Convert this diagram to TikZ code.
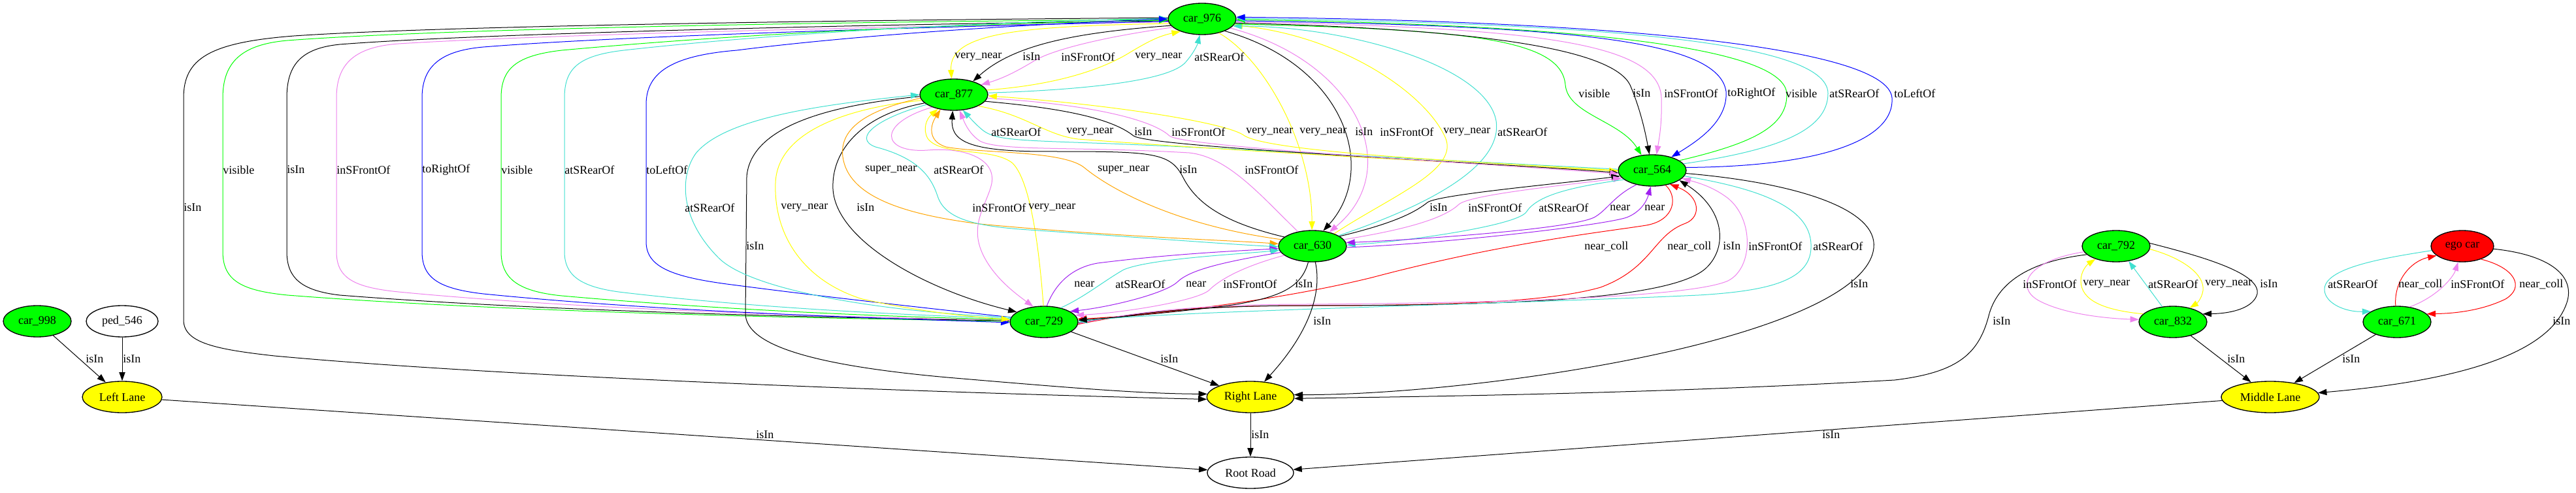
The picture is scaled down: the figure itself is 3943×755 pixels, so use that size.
\documentclass[tikz,border=0pt]{standalone}
\usepackage{fontspec}
\setmainfont{Liberation Serif}
\usetikzlibrary{arrows.meta,shapes.geometric}
\definecolor{gvgreen}{RGB}{0,255,0}
\definecolor{gvyellow}{RGB}{255,255,0}
\definecolor{gvviolet}{RGB}{238,130,238}
\definecolor{gvblue}{RGB}{0,0,255}
\definecolor{gvturq}{RGB}{64,224,208}
\definecolor{gvpurple}{RGB}{160,32,240}
\definecolor{gvorange}{RGB}{255,165,0}
\definecolor{gvred}{RGB}{255,0,0}
\newcommand\lbl{\fontsize{13.5}{15}\selectfont}
\begin{document}
\begin{tikzpicture}[x=0.75pt,y=-0.75pt,
  nd/.style={ellipse,draw=black,line width=1pt,inner sep=0pt,minimum height=36pt,font=\lbl},
  gn/.style={nd,fill=gvgreen,minimum width=78pt},
  ed/.style={-{Triangle[length=10pt,width=7pt]},line width=0.75pt},
  lab/.style={anchor=west,inner sep=0pt,font=\lbl}]
\fill[white] (0,0) rectangle (3943,755);
\useasboundingbox (0,0) rectangle (3943,755);
% nodes
\node[gn] (c976) at (1840,29) {car\_976};
\node[gn] (c877) at (1460,145) {car\_877};
\node[gn] (c564) at (2529,261) {car\_564};
\node[gn] (c630) at (2009,377) {car\_630};
\node[gn] (c729) at (1598,493) {car\_729};
\node[nd,fill=gvyellow,minimum width=100pt] (RL) at (1914,608) {Right Lane};
\node[nd,fill=white,minimum width=99pt] (RR) at (1914,724) {Root Road};
\node[nd,fill=gvyellow,minimum width=91.5pt] (LL) at (187,608) {Left Lane};
\node[gn] (c998) at (57,492) {car\_998};
\node[nd,fill=white,minimum width=82.5pt] (p546) at (187,492) {ped\_546};
\node[gn] (c792) at (3239,377) {car\_792};
\node[gn] (c832) at (3326,493) {car\_832};
\node[nd,fill=gvred,minimum width=72pt] (ego) at (3769,377) {ego car};
\node[gn] (c671) at (3669,493) {car\_671};
\node[nd,fill=gvyellow,minimum width=112.5pt] (ML) at (3475,608) {Middle Lane};

% ---- left bracket group c976 <-> c729
\draw[ed] (c976.178) .. controls (1400,30) and (700,38) .. (450,55) .. controls (320,65) and (281,90) .. (281,150) -- (281,490) .. controls (281,525) and (330,535) .. (420,545) .. controls (800,580) and (1500,603) .. (RL.183);
\draw[ed,gvgreen] (c976.181) .. controls (1400,32) and (700,42) .. (440,62) .. controls (370,68) and (341,95) .. (341,150) -- (341,385) .. controls (341,430) and (370,445) .. (440,452) .. controls (800,480) and (1300,488) .. (c729.179);
\draw[ed] (c976.183) .. controls (1400,36) and (750,50) .. (520,68) .. controls (460,74) and (439,100) .. (439,150) -- (439,385) .. controls (439,425) and (460,445) .. (520,452) .. controls (850,478) and (1300,487) .. (c729.178);
\draw[ed,gvviolet] (c976.185) .. controls (1400,40) and (850,52) .. (610,67) .. controls (540,72) and (515,100) .. (515,150) -- (515,385) .. controls (515,425) and (540,440) .. (610,447) .. controls (900,475) and (1300,486) .. (c729.177);
\draw[ed,gvblue] (c976.184) .. controls (1400,42) and (950,55) .. (740,72) .. controls (670,78) and (646,105) .. (646,150) -- (646,385) .. controls (646,425) and (670,442) .. (740,450) .. controls (1000,476) and (1300,486) .. (c729.181);
\draw[ed,gvgreen] (c729.176) .. controls (1300,484) and (1050,470) .. (860,453) .. controls (790,446) and (767,425) .. (767,385) -- (767,150) .. controls (767,105) and (790,85) .. (860,77) .. controls (1100,55) and (1400,38) .. (c976.182);
\draw[ed,gvturq] (c729.174) .. controls (1300,480) and (1100,465) .. (955,448) .. controls (885,440) and (864,420) .. (864,385) -- (864,150) .. controls (864,105) and (885,85) .. (955,77) .. controls (1150,55) and (1450,35) .. (c976.179);
\draw[ed,gvblue] (c729.172) .. controls (1400,470) and (1250,453) .. (1128,437) .. controls (1030,425) and (989,410) .. (989,370) -- (989,160) .. controls (989,110) and (1030,85) .. (1128,77) .. controls (1300,55) and (1550,38) .. (c976.180);
\draw[ed] (c877.183) .. controls (1280,160) and (1150,190) .. (1143,270) -- (1141,480) .. controls (1141,530) and (1250,560) .. (1450,578) .. controls (1650,595) and (1750,603) .. (RL.176);

% ---- c976 <-> c877
\draw[ed,gvyellow] (c976.188) .. controls (1560,40) and (1452,50) .. (c877.98);
\draw[ed] (c976.192) .. controls (1640,50) and (1550,70) .. (c877.35);
\draw[ed,gvviolet] (c976.196) .. controls (1700,55) and (1610,75) .. (1580,95) .. controls (1555,110) and (1535,120) .. (c877.20);
\draw[ed,gvyellow] (c877.8) .. controls (1620,130) and (1690,105) .. (1730,80) .. controls (1760,62) and (1775,55) .. (c976.210);
\draw[ed,gvturq] (c877.3) .. controls (1650,138) and (1790,125) .. (1815,95) .. controls (1828,80) and (1833,68) .. (c976.262);

% ---- c976 <-> c630
\draw[ed,gvyellow] (c976.320) .. controls (1935,90) and (2008,220) .. (c630.92);
\draw[ed] (c976.332) .. controls (2060,100) and (2110,260) .. (c630.55);
\draw[ed,gvviolet] (c976.342) .. controls (2080,95) and (2150,260) .. (c630.40);
\draw[ed,gvyellow] (c630.30) .. controls (2130,300) and (2235,260) .. (2212,210) .. controls (2180,140) and (2050,55) .. (c976.349);
\draw[ed,gvturq] (c630.22) .. controls (2200,310) and (2300,250) .. (2290,185) .. controls (2275,100) and (2060,40) .. (c976.347);

% ---- c976 <-> c564
\draw[ed,gvgreen] (c976.351) .. controls (2250,45) and (2390,60) .. (2396,130) .. controls (2400,175) and (2480,185) .. (c564.125);
\draw[ed] (c976.353) .. controls (2300,45) and (2470,80) .. (2495,130) .. controls (2510,165) and (2518,200) .. (c564.100);
\draw[ed,gvviolet] (c976.355) .. controls (2350,42) and (2540,65) .. (2543,150) .. controls (2544,190) and (2540,210) .. (c564.75);
\draw[ed,gvblue] (c976.357) .. controls (2400,40) and (2630,60) .. (2642,140) .. controls (2645,185) and (2600,215) .. (c564.35);
\draw[ed,gvgreen] (c564.20) .. controls (2680,220) and (2735,195) .. (2735,145) .. controls (2735,70) and (2400,38) .. (c976.359);
\draw[ed,gvturq] (c564.12) .. controls (2720,230) and (2798,200) .. (2798,143) .. controls (2798,60) and (2420,36) .. (c976.1);
\draw[ed,gvblue] (c564.5) .. controls (2800,255) and (2900,210) .. (2896,150) .. controls (2890,70) and (2450,32) .. (c976.3);

% ---- c877 <-> c729
\draw[ed,gvturq] (c729.172) .. controls (1350,478) and (1150,445) .. (1100,395) .. controls (1040,335) and (1040,270) .. (1065,235) .. controls (1110,180) and (1260,160) .. (c877.180);
\draw[ed,gvyellow] (c877.190) .. controls (1300,165) and (1190,200) .. (1187,280) .. controls (1184,360) and (1230,430) .. (1320,458) .. controls (1420,480) and (1500,486) .. (c729.176);
\draw[ed] (c877.196) .. controls (1320,175) and (1272,230) .. (1275,290) .. controls (1280,370) and (1420,445) .. (c729.160);
\draw[ed,gvviolet] (c877.210) .. controls (1340,190) and (1350,235) .. (1420,230) .. controls (1480,225) and (1528,245) .. (1517,285) .. controls (1507,320) and (1480,350) .. (1510,400) .. controls (1528,430) and (1555,450) .. (c729.125);
\draw[ed,gvyellow] (c729.92) .. controls (1592,400) and (1580,280) .. (1550,250) .. controls (1520,225) and (1440,240) .. (1420,212) .. controls (1412,198) and (1418,182) .. (c877.222);

% ---- c877 <-> c630
\draw[ed,gvorange] (c877.186) .. controls (1320,170) and (1285,200) .. (1290,240) .. controls (1298,300) and (1380,328) .. (1500,343) .. controls (1700,362) and (1880,368) .. (c630.176);
\draw[ed,gvturq] (c877.200) .. controls (1340,182) and (1305,212) .. (1340,225) .. controls (1405,242) and (1425,270) .. (1435,300) .. controls (1446,335) and (1490,345) .. (1560,351) .. controls (1750,364) and (1880,374) .. (c630.181);
\draw[ed,gvorange] (c630.168) .. controls (1800,345) and (1700,290) .. (1660,257) .. controls (1628,230) and (1500,235) .. (1448,225) .. controls (1422,217) and (1422,195) .. (c877.228);
\draw[ed] (c630.162) .. controls (1870,340) and (1830,310) .. (1810,270) .. controls (1790,232) and (1760,232) .. (1600,232) .. controls (1480,232) and (1455,215) .. (c877.266);
\draw[ed,gvviolet] (c630.135) .. controls (1930,300) and (1880,240) .. (1820,234) .. controls (1650,224) and (1530,232) .. (1500,216) .. controls (1485,206) and (1478,192) .. (c877.290);

% ---- c877 <-> c564
\draw[ed,gvturq] (c564.178) .. controls (2200,245) and (1900,228) .. (1700,220) .. controls (1560,215) and (1525,215) .. (1505,200) .. controls (1495,192) and (1487,183) .. (c877.300);
\draw[ed,gvyellow] (c877.335) .. controls (1570,175) and (1600,207) .. (1650,213) .. controls (1900,232) and (2300,253) .. (c564.181);
\draw[ed] (c877.348) .. controls (1620,165) and (1700,180) .. (1735,208) .. controls (1760,226) and (2300,250) .. (c564.184);
\draw[ed,gvviolet] (c877.354) .. controls (1650,158) and (1760,180) .. (1790,208) .. controls (1810,226) and (2300,252) .. (c564.186);
\draw[ed,gvyellow] (c564.180) .. controls (2300,250) and (1950,235) .. (1905,208) .. controls (1880,188) and (1700,160) .. (c877.358);

% ---- c564 <-> c630
\draw[ed] (c630.20) .. controls (2120,345) and (2160,330) .. (2185,310) .. controls (2200,298) and (2400,280) .. (c564.190);
\draw[ed,gvviolet] (c630.12) .. controls (2150,352) and (2210,335) .. (2233,313) .. controls (2250,298) and (2400,283) .. (c564.194);
\draw[ed,gvturq] (c564.198) .. controls (2400,287) and (2352,300) .. (2336,325) .. controls (2320,346) and (2150,370) .. (c630.2);
\draw[ed,gvpurple] (c564.222) .. controls (2470,300) and (2460,322) .. (2440,333) .. controls (2400,352) and (2150,368) .. (c630.6);
\draw[ed,gvpurple] (c630.358) .. controls (2200,374) and (2450,346) .. (2490,333) .. controls (2510,325) and (2520,310) .. (c564.265);

% ---- c564 <-> c729
\draw[ed,gvred] (c564.312) .. controls (2568,300) and (2565,337) .. (2520,345) .. controls (2450,356) and (2300,372) .. (2100,425) .. controls (1950,462) and (1750,484) .. (c729.5);
\draw[ed,gvred] (c729.356) .. controls (1750,476) and (1850,468) .. (2000,468) .. controls (2250,468) and (2380,460) .. (2450,440) .. controls (2530,410) and (2530,360) .. (2580,342) .. controls (2605,332) and (2602,300) .. (c564.322);
\draw[ed] (c729.358) .. controls (1750,477) and (1850,468) .. (2000,468) .. controls (2300,468) and (2560,460) .. (2612,410) .. controls (2645,378) and (2640,320) .. (c564.340);
\draw[ed,gvviolet] (c729.357) .. controls (1750,475) and (1850,466) .. (2000,466) .. controls (2300,464) and (2590,455) .. (2645,430) .. controls (2685,410) and (2685,330) .. (2640,300) .. controls (2620,286) and (2600,280) .. (c564.345);
\draw[ed,gvturq] (c564.350) .. controls (2700,290) and (2775,320) .. (2772,380) .. controls (2770,432) and (2700,446) .. (2600,452) .. controls (2300,466) and (1800,476) .. (c729.1);

% ---- c630 <-> c729
\draw[ed,gvpurple] (c729.80) .. controls (1615,435) and (1640,410) .. (1680,403) .. controls (1800,388) and (1900,384) .. (c630.184);
\draw[ed,gvturq] (c729.40) .. controls (1660,455) and (1690,430) .. (1720,413) .. controls (1760,396) and (1900,389) .. (c630.187);
\draw[ed,gvpurple] (c630.191) .. controls (1880,400) and (1822,412) .. (1802,432) .. controls (1782,450) and (1700,470) .. (c729.22);
\draw[ed,gvviolet] (c630.198) .. controls (1910,406) and (1870,425) .. (1850,445) .. controls (1830,461) and (1720,479) .. (c729.12);
\draw[ed] (c630.255) .. controls (1992,440) and (1960,456) .. (1880,468) .. controls (1800,478) and (1700,487) .. (c729.3);
\draw[ed] (c630.280) .. controls (2022,440) and (2012,500) .. (RL.48);

% ---- lanes
\draw[ed] (c729) -- (RL);
\draw[ed] (c564.355) .. controls (2750,280) and (2875,320) .. (2868,380) .. controls (2860,450) and (2700,510) .. (2500,550) .. controls (2300,590) and (2100,605) .. (RL.3);
\draw[ed] (c792.196) .. controls (3110,400) and (3060,430) .. (3045,480) .. controls (3030,540) and (3000,570) .. (2900,582) .. controls (2500,605) and (2100,608) .. (RL.358);
\draw[ed] (RL) -- (RR);
\draw[ed] (LL) -- (RR);
\draw[ed] (ML) -- (RR);
\draw[ed] (c998) -- (LL);
\draw[ed] (p546) -- (LL);

% ---- right cluster
\draw[ed,gvviolet] (c792.190) .. controls (3100,400) and (3085,440) .. (3120,460) .. controls (3160,482) and (3230,488) .. (c832.176);
\draw[ed,gvyellow] (c832.165) .. controls (3220,475) and (3185,460) .. (3185,430) .. controls (3185,415) and (3195,405) .. (c792.212);
\draw[ed,gvturq] (c832.125) -- (c792.310);
\draw[ed,gvyellow] (c792.355) .. controls (3340,395) and (3375,420) .. (3372,445) .. controls (3370,458) and (3362,465) .. (c832.40);
\draw[ed] (c792.5) .. controls (3380,395) and (3460,420) .. (3455,450) .. controls (3450,470) and (3420,480) .. (c832.15);
\draw[ed] (c832) -- (ML);
\draw[ed] (c671) -- (ML);
\draw[ed] (ego.355) .. controls (3900,390) and (3940,420) .. (3930,460) .. controls (3910,530) and (3800,580) .. (ML.5);
\draw[ed,gvturq] (ego.188) .. controls (3650,395) and (3555,410) .. (3558,445) .. controls (3560,465) and (3590,478) .. (c671.158);
\draw[ed,gvred] (c671.95) .. controls (3664,430) and (3690,400) .. (ego.200);
\draw[ed,gvviolet] (c671.50) .. controls (3730,455) and (3755,425) .. (ego.255);
\draw[ed,gvred] (ego.325) .. controls (3850,410) and (3865,440) .. (3835,458) .. controls (3800,475) and (3760,480) .. (c671.15);

% ---- labels
\foreach \x/\t in {341/visible,439/isIn,515/inSFrontOf,646/toRightOf,767/visible,864/atSRearOf,989/toLeftOf}
  \node[lab] at (\x,260) {\t};
\node[lab] at (281,318) {isIn};
\node[lab] at (1142,377) {isIn};
\foreach \x/\t in {1461/very\_near,1565/isIn,1624/inSFrontOf,1737/very\_near,1828/atSRearOf}
  \node[lab] at (\x,87) {\t};
\foreach \x/\t in {1517/atSRearOf,1632/very\_near,1736/isIn,1793/inSFrontOf,1907/very\_near,1989/very\_near,2074/isIn,2112/inSFrontOf,2209/very\_near,2292/atSRearOf}
  \node[lab] at (\x,202) {\t};
\foreach \x/\t in {2416/visible,2499/isIn,2547/inSFrontOf,2644/toRightOf,2733/visible,2800/atSRearOf,2899/toLeftOf}
  \node[lab] at (\x,143) {\t};
\foreach \x/\t in {1324/super\_near,1429/atSRearOf,1680/super\_near,1805/isIn,1905/inSFrontOf}
  \node[lab] at (\x,260) {\t};
\foreach \x/\t in {1048/atSRearOf,1195/very\_near,1311/isIn,1488/inSFrontOf,1574/very\_near,2188/isIn,2247/inSFrontOf,2355/atSRearOf,2464/near,2517/near}
  \node[lab] at (\x,318) {\t};
\foreach \x/\t in {2425/near\_coll,2552/near\_coll,2637/isIn,2676/inSFrontOf,2775/atSRearOf}
  \node[lab] at (\x,377) {\t};
\foreach \x/\t in {1644/near,1707/atSRearOf,1815/near,1872/inSFrontOf,1982/isIn,2832/isIn}
  \node[lab] at (\x,435) {\t};
\node[lab] at (2010,492) {isIn};
\node[lab] at (1776,550) {isIn};
\node[lab] at (1915,666) {isIn};
\node[lab] at (1157,666) {isIn};
\node[lab] at (2789,666) {isIn};
\node[lab] at (131,550) {isIn};
\node[lab] at (188,550) {isIn};
\foreach \x/\t in {3096/inSFrontOf,3188/very\_near,3288/atSRearOf,3375/very\_near,3459/isIn,3563/atSRearOf,3671/near\_coll,3751/inSFrontOf,3856/near\_coll}
  \node[lab] at (\x,435) {\t};
\node[lab] at (3050,492) {isIn};
\node[lab] at (3907,492) {isIn};
\node[lab] at (3409,550) {isIn};
\node[lab] at (3585,550) {isIn};
\end{tikzpicture}
\end{document}
